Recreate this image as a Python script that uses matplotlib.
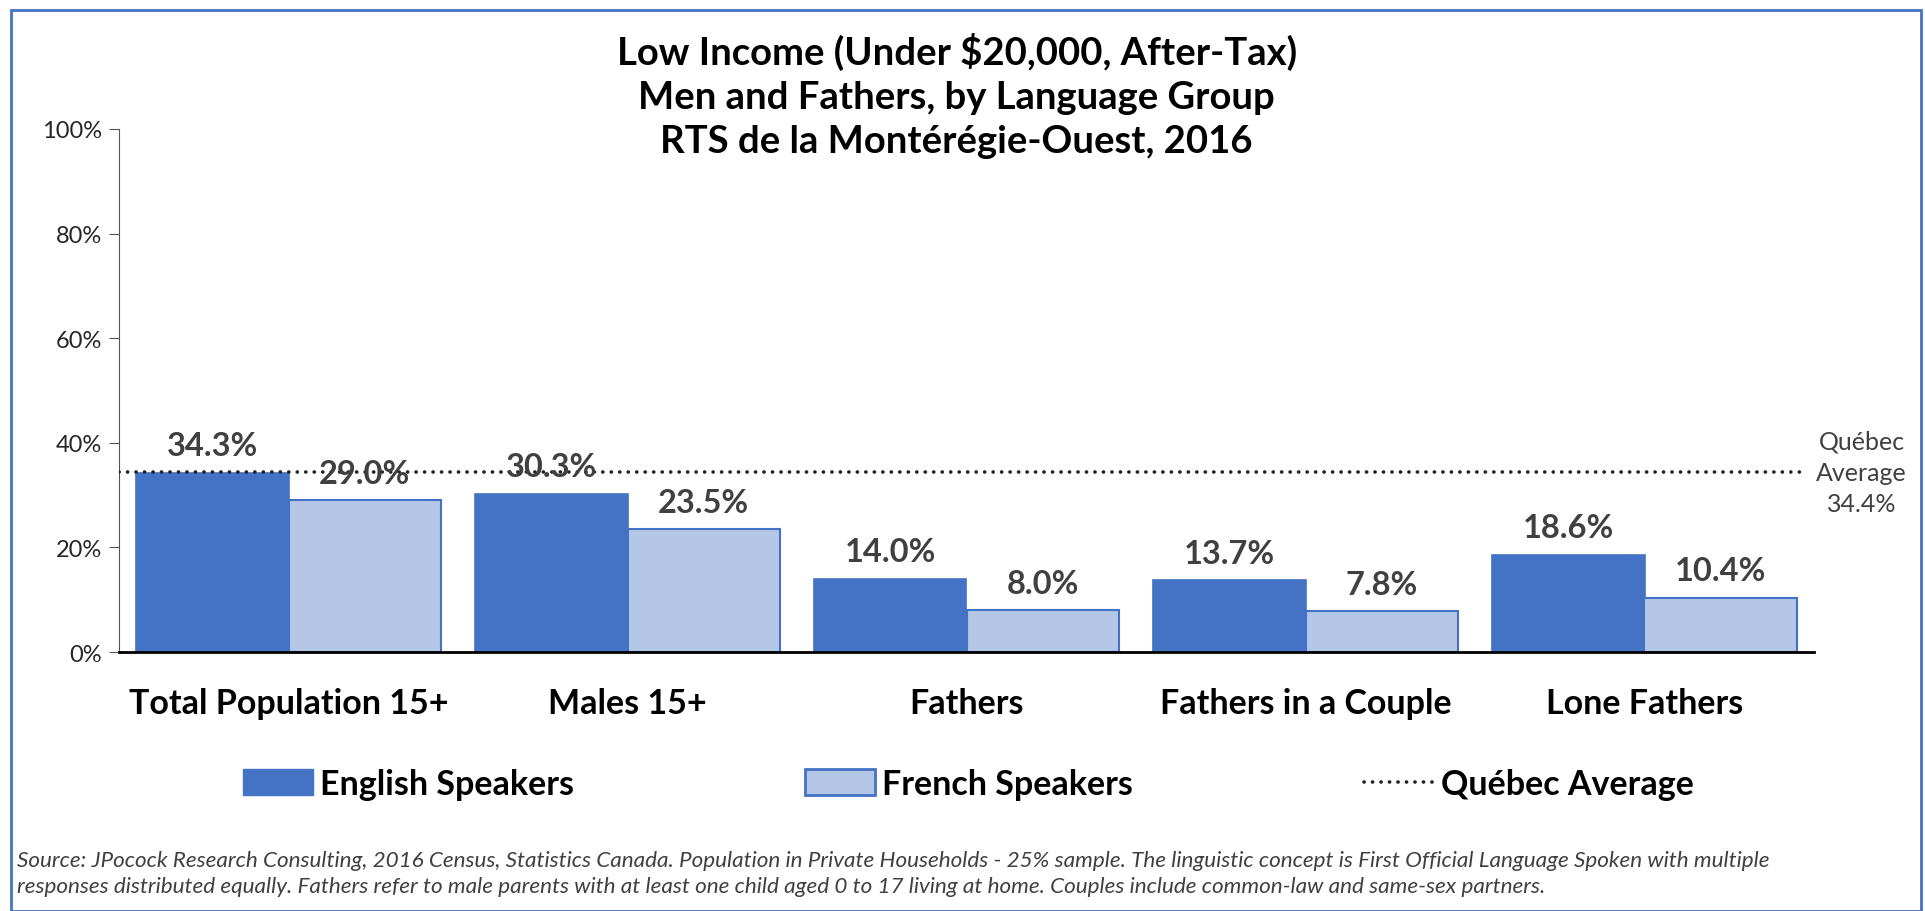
import numpy as np
import matplotlib
matplotlib.use("Agg")
import matplotlib.pyplot as plt
from matplotlib.patches import Patch, Rectangle
from matplotlib.lines import Line2D

# data
categories = ["Total Population 15+", "Males 15+", "Fathers", "Fathers in a Couple", "Lone Fathers"]
english = [34.3, 30.3, 14.0, 13.7, 18.6]
french = [29.0, 23.5, 8.0, 7.8, 10.4]
quebec_avg = 34.4

title = "Low Income (Under $20,000, After-Tax)\nMen and Fathers, by Language Group\nRTS de la Montérégie-Ouest, 2016"
note = ("Source: JPocock Research Consulting, 2016 Census, Statistics Canada. Population in Private Households - 25% sample. "
        "The linguistic concept is First Official Language Spoken with multiple\n"
        "responses distributed equally. Fathers refer to male parents with at least one child aged 0 to 17 living at home. "
        "Couples include common-law and same-sex partners.")

blue = "#4472C4"
light = "#B4C7E7"
grey = "#404040"
dots = (0, (0.05, 2.3))

plt.rcParams['font.family'] = ['Lato', 'DejaVu Sans']

fig = plt.figure(figsize=(19.25, 9.12), dpi=100)
ax = fig.add_axes([119 / 1925, 1 - 653 / 912, 1695 / 1925, 523 / 912])

x = np.arange(len(categories))
w = 0.45
b1 = ax.bar(x - w / 2, english, w, color=blue, edgecolor=blue, linewidth=1.2, zorder=2)
b2 = ax.bar(x + w / 2, french, w, color=light, edgecolor=blue, linewidth=1.5, zorder=2)

for bars, vals in ((b1, english), (b2, french)):
    for r, v in zip(bars, vals):
        ax.annotate(f"{v:.1f}%", (r.get_x() + r.get_width() / 2, v), xytext=(0, 9),
                    textcoords="offset points", ha="center", va="bottom",
                    fontsize=23.5, fontweight="bold", color=grey, zorder=4)

ax.axhline(quebec_avg, xmin=0, xmax=0.992, color="#222222", linewidth=2.6,
           linestyle=dots, dash_capstyle="round", zorder=3)
ax.text(1.028, quebec_avg, "Québec\nAverage\n34.4%", transform=ax.get_yaxis_transform(),
        ha="center", va="center", fontsize=18, color=grey, linespacing=1.45)

ax.set_xlim(-0.5, 4.5)
ax.set_ylim(0, 100)
ax.set_yticks(range(0, 101, 20))
ax.set_yticklabels([f"{t}%" for t in range(0, 101, 20)], fontsize=17, color="#262626")
ax.set_xticks(x)
ax.set_xticklabels(categories, fontsize=24.5, fontweight="bold", color="black")
ax.tick_params(axis="x", length=0, pad=25)
ax.tick_params(axis="y", length=7, direction="out", color="#555555", pad=5)
for s in ("top", "right"):
    ax.spines[s].set_visible(False)
ax.spines["left"].set_color("#555555")
ax.spines["bottom"].set_linewidth(2)

fig.text(0.497, 1 - 96 / 912, title, ha="center", va="center", fontsize=27.5,
         fontweight="bold", linespacing=1.36)

handles = [Patch(facecolor=blue, edgecolor=blue),
           Patch(facecolor=light, edgecolor=blue, linewidth=2),
           Line2D([0], [0], color="#222222", linewidth=2.6, linestyle=dots, dash_capstyle="round")]
fig.legend(handles, ["English Speakers", "French Speakers", "Québec Average"],
           loc="center", bbox_to_anchor=(0.503, 1 - 785 / 912), ncol=3, frameon=False,
           prop={"size": 24.5, "weight": "bold"}, columnspacing=6.8, handlelength=2.05,
           handleheight=0.8, handletextpad=0.2)

fig.text(17 / 1925, 1 - 874 / 912, note, ha="left", va="center", fontsize=16.2,
         style="italic", color=grey, linespacing=1.35)

fig.patches.append(Rectangle((11 / 1925, 0), 1910 / 1925, 901 / 912, transform=fig.transFigure,
                             fill=False, edgecolor=blue, linewidth=2))

fig.savefig("out.png", dpi=100)
